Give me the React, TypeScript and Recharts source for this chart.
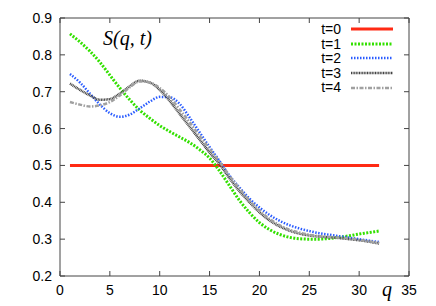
import { LineChart, Line, XAxis, YAxis } from "recharts";

const qValues = [
  1, 2, 3, 4, 5, 6, 7, 8, 9, 10, 11, 12, 13, 14, 15, 16,
  17, 18, 19, 20, 21, 22, 23, 24, 25, 26, 27, 28, 29, 30, 31, 32,
];

const t0 = qValues.map(() => 0.5);

const t1 = [
  0.857, 0.835, 0.81, 0.78, 0.745, 0.71, 0.678, 0.65, 0.628, 0.608, 0.592, 0.577,
  0.562, 0.543, 0.52, 0.485, 0.445, 0.405, 0.372, 0.345, 0.326, 0.313, 0.305,
  0.301, 0.3, 0.3, 0.302, 0.305, 0.309, 0.314, 0.318, 0.322,
];

const t2 = [
  0.748, 0.725, 0.695, 0.665, 0.642, 0.632, 0.638, 0.655, 0.673, 0.686, 0.685,
  0.667, 0.63, 0.59, 0.55, 0.512, 0.472, 0.44, 0.41, 0.386, 0.366, 0.35, 0.338,
  0.329, 0.322, 0.316, 0.312, 0.308, 0.304, 0.3, 0.296, 0.292,
];

const t3 = [
  0.722, 0.705, 0.69, 0.678, 0.68, 0.695, 0.715, 0.73, 0.725, 0.705, 0.675, 0.64,
  0.605, 0.57, 0.535, 0.503, 0.465, 0.43, 0.4, 0.373, 0.351, 0.335, 0.323, 0.315,
  0.31, 0.307, 0.305, 0.303, 0.3, 0.297, 0.293, 0.288,
];

const t4 = [
  0.672, 0.665, 0.66, 0.663, 0.672, 0.69, 0.712, 0.728, 0.725, 0.71, 0.685, 0.652,
  0.617, 0.58, 0.545, 0.51, 0.472, 0.437, 0.405, 0.378, 0.355, 0.338, 0.326, 0.318,
  0.312, 0.308, 0.306, 0.304, 0.302, 0.298, 0.294, 0.29,
];

const xTicks = [0, 5, 10, 15, 20, 25, 30, 35];
const yTicks = [0.2, 0.3, 0.4, 0.5, 0.6, 0.7, 0.8, 0.9];

const data = qValues.map((q, i) => ({
  q,
  t0: t0[i],
  t1: t1[i],
  t2: t2[i],
  t3: t3[i],
  t4: t4[i],
}));

const series = [
  { key: "t0", name: "t=0", color: "#ff2a14", width: 3, dash: undefined },
  { key: "t1", name: "t=1", color: "#33e000", width: 3, dash: "2 1.5" },
  { key: "t2", name: "t=2", color: "#2a5cff", width: 2.5, dash: "1.5 1.5" },
  { key: "t3", name: "t=3", color: "#444444", width: 2.5, dash: "1 0.6" },
  { key: "t4", name: "t=4", color: "#a0a0a0", width: 2.5, dash: "4 1.5 1.5 1.5" },
];

const font = "'Liberation Sans', Arial, sans-serif";
const axisColor = "#444";

const xMin = 0, xMax = 35, yMin = 0.2, yMax = 0.9;

const W = 436, H = 306;
const margin = { top: 18, right: 27, left: 0, bottom: 0 };
const yAxisW = 60, xAxisH = 30;
const plotL = margin.left + yAxisW;
const plotT = margin.top;
const plotR = W - margin.right;
const plotB = H - margin.bottom - xAxisH;

// top and right mirrored frame (gnuplot style border with inward ticks)
function MirrorFrame() {
  const px = (v: number) => plotL + ((v - xMin) / (xMax - xMin)) * (plotR - plotL);
  const py = (v: number) => plotB - ((v - yMin) / (yMax - yMin)) * (plotB - plotT);
  return (
    <svg
      width={W}
      height={H}
      style={{ position: "absolute", left: 0, top: 0, pointerEvents: "none" }}
    >
      <line x1={plotL} x2={plotR} y1={plotT} y2={plotT} stroke={axisColor} />
      <line x1={plotR} x2={plotR} y1={plotT} y2={plotB} stroke={axisColor} />
      {xTicks.map((v) => (
        <line key={"x" + v} x1={px(v)} x2={px(v)} y1={plotT} y2={plotT + 5} stroke={axisColor} />
      ))}
      {yTicks.map((v) => (
        <line key={"y" + v} x1={plotR} x2={plotR - 5} y1={py(v)} y2={py(v)} stroke={axisColor} />
      ))}
    </svg>
  );
}

function LegendBox() {
  return (
    <div
      style={{
        position: "absolute",
        right: 43,
        top: 22,
        fontFamily: font,
        fontSize: 14,
        lineHeight: "14.6px",
        color: "#000",
      }}
    >
      {series.map((s) => (
        <div key={s.key} style={{ display: "flex", alignItems: "center", justifyContent: "flex-end" }}>
          <span style={{ marginRight: 10 }}>{s.name}</span>
          <svg width={42} height={8}>
            <line
              x1={0}
              x2={42}
              y1={4}
              y2={4}
              stroke={s.color}
              strokeWidth={s.width}
              strokeDasharray={s.dash}
            />
          </svg>
        </div>
      ))}
    </div>
  );
}

export default function App() {
  return (
    <div style={{ position: "absolute", left: 0, top: 0, width: W, height: H, background: "#fff" }}>
      <LineChart width={W} height={H} data={data} margin={margin}>
        <XAxis
          dataKey="q"
          type="number"
          domain={[xMin, xMax]}
          ticks={xTicks}
          height={xAxisH}
          stroke={axisColor}
          tickSize={-5}
          tickMargin={14}
          tick={{ fill: "#000", fontSize: 14, fontFamily: font }}
        />
        <YAxis
          type="number"
          domain={[yMin, yMax]}
          ticks={yTicks}
          width={yAxisW}
          stroke={axisColor}
          tickSize={-5}
          tickMargin={13}
          tickFormatter={(v: number) => v.toFixed(1)}
          tick={{ fill: "#000", fontSize: 14, fontFamily: font }}
        />
        {series.map((s) => (
          <Line
            key={s.key}
            dataKey={s.key}
            name={s.name}
            type="monotone"
            stroke={s.color}
            strokeWidth={s.width}
            strokeDasharray={s.dash}
            dot={false}
            isAnimationActive={false}
          />
        ))}
      </LineChart>
      <MirrorFrame />
      <LegendBox />
      <div
        style={{
          position: "absolute",
          left: 103,
          top: 27,
          fontFamily: "'Liberation Serif', serif",
          fontStyle: "italic",
          fontSize: 20,
          whiteSpace: "pre",
        }}
      >
        S(q, t)
      </div>
      <div
        style={{
          position: "absolute",
          left: 382,
          top: 278,
          fontFamily: "'Liberation Serif', serif",
          fontStyle: "italic",
          fontSize: 20,
        }}
      >
        q
      </div>
    </div>
  );
}
